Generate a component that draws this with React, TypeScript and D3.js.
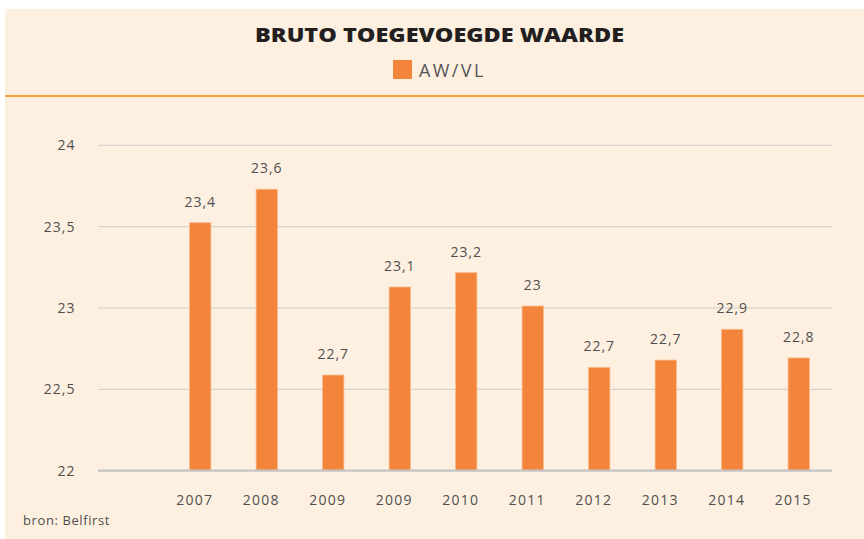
import React from "react";
import * as d3 from "d3";

const categories = ["", "2007", "2008", "2009", "2009 ", "2010", "2011", "2012", "2013", "2014", "2015"];
const barValues: (number | null)[] = [null, 23.524, 23.73, 22.588, 23.129, 23.217, 23.012, 22.635, 22.68, 22.869, 22.693];
const valueLabels = ["", "23,4", "23,6", "22,7", "23,1", "23,2", "23", "22,7", "22,7", "22,9", "22,8"];
const yTicks = [22, 22.5, 23, 23.5, 24];
const yTickLabels = ["22", "22,5", "23", "23,5", "24"];
const title = "BRUTO TOEGEVOEGDE WAARDE";
const seriesName = "AW/VL";
const source = "bron: Belfirst";

const W = 864;
const H = 539;
const FONT = "'Open Sans', 'Noto Sans', sans-serif";
const TEXT = "#4f4f4f";

export default function App() {
  const x = d3.scaleBand<string>().domain(categories).range([100.5, 832]).paddingInner(0.68).paddingOuter(0.34);
  const y = d3.scaleLinear().domain([22, 24]).range([470.7, 145.3]);
  const gridX0 = 98;
  const gridX1 = 832;
  const bw = x.bandwidth();

  return (
    <div style={{ position: "fixed", left: 0, top: 0 }}>
      <svg width={W} height={H} style={{ display: "block" }}>
        <rect x={0} y={0} width={W} height={H} fill="#ffffff" />
        <rect x={5} y={9} width={W - 5} height={H - 9} fill="#fdf0e1" />
        <text
          x={255}
          y={42}
          fontFamily={FONT}
          fontWeight={800}
          fontSize={19.5}
          fill="#231f20"
          textLength={369}
          lengthAdjust="spacingAndGlyphs"
        >
          {title}
        </text>
        <rect x={393} y={60} width={19} height={19} fill="#f3843c" />
        <text x={419} y={77} fontFamily={FONT} fontWeight={400} fontSize={18} fill="#555555" letterSpacing={2.4}>
          {seriesName}
        </text>
        <line x1={5} x2={W} y1={96} y2={96} stroke="#f7a23e" strokeWidth={1.8} />

        {yTicks.map((t, i) => (
          <g key={"g" + i}>
            {t !== 22 && (
              <line x1={gridX0} x2={gridX1} y1={y(t)} y2={y(t)} stroke="#cccccc" strokeWidth={1} />
            )}
            <text
              x={75.5}
              y={y(t)}
              dy="0.35em"
              textAnchor="end"
              fontFamily={FONT}
              fontSize={14}
              fill={TEXT}
              letterSpacing={1}
            >
              {yTickLabels[i]}
            </text>
          </g>
        ))}

        {categories.map((c, i) => {
          const v = barValues[i];
          const cx = (x(c) as number) + bw / 2;
          return (
            <g key={"b" + i}>
              {v !== null && (
                <rect
                  x={x(c) as number}
                  y={y(v)}
                  width={bw}
                  height={y(22) - y(v)}
                  fill="#f3843c"
                  stroke="#f9b98a"
                  strokeWidth={0.8}
                />
              )}
              {v !== null && (
                <text
                  x={cx}
                  y={y(v) - 16}
                  textAnchor="middle"
                  fontFamily={FONT}
                  fontSize={14}
                  fill={TEXT}
                  letterSpacing={1}
                >
                  {valueLabels[i]}
                </text>
              )}
              <text
                x={cx - 5.5}
                y={505}
                textAnchor="middle"
                fontFamily={FONT}
                fontSize={14}
                fill={TEXT}
                letterSpacing={1.3}
              >
                {c.trim()}
              </text>
            </g>
          );
        })}

        <line x1={gridX0} x2={gridX1} y1={y(22)} y2={y(22)} stroke="#c4c4c4" strokeWidth={2.2} />

        <text x={23} y={525} fontFamily={FONT} fontSize={13} fill={TEXT} letterSpacing={0.6}>
          {source}
        </text>
      </svg>
    </div>
  );
}
